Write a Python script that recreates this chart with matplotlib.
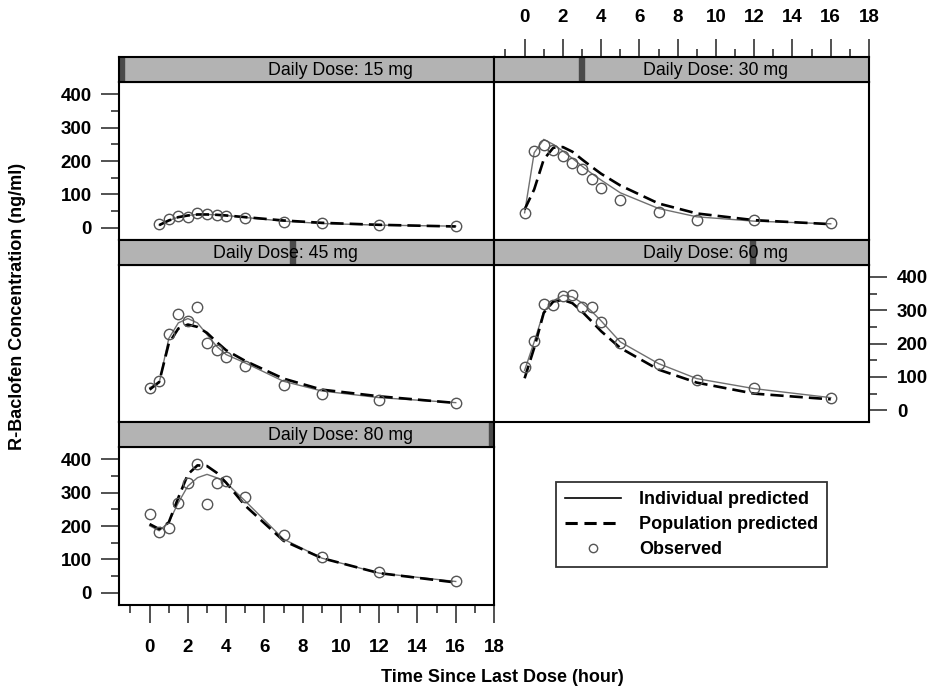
import numpy as np
import matplotlib.pyplot as plt
from matplotlib.patches import Rectangle
from matplotlib.lines import Line2D

plt.rcParams['font.family'] = ['Liberation Sans', 'DejaVu Sans']
plt.rcParams['font.weight'] = 'bold'

# sampling times (hour)
times = [0, 0.5, 1, 1.5, 2, 2.5, 3, 3.5, 4, 5, 7, 9, 12, 16]
times_15 = [0.5, 1, 1.5, 2, 2.5, 3, 3.5, 4, 5, 7, 9, 12, 16]

doses = [15, 30, 45, 60, 80]
strip_labels = ['Daily Dose: 15 mg', 'Daily Dose: 30 mg', 'Daily Dose: 45 mg',
                'Daily Dose: 60 mg', 'Daily Dose: 80 mg']

# observed concentrations (ng/ml)
obs_15 = [11, 26, 36, 32, 43, 40, 39, 36, 29, 17, 13, 7, 5]
obs_30 = [43, 230, 249, 234, 214, 195, 175, 145, 119, 83, 47, 23, 23, 15]
obs_45 = [66, 87, 229, 289, 269, 310, 202, 182, 159, 132, 76, 48, 31, 21]
obs_60 = [130, 209, 318, 316, 343, 346, 311, 311, 264, 202, 140, 90, 66, 38]
obs_80 = [236, 183, 193, 269, 330, 385, 266, 328, 335, 287, 174, 106, 61, 34]

# individual predicted
ipred_15 = [8, 22, 32, 37, 40, 40, 39, 37, 31, 20, 13, 8, 5]
ipred_30 = [45, 225, 265, 250, 230, 208, 185, 163, 143, 105, 58, 33, 20, 12]
ipred_45 = [68, 82, 215, 262, 275, 262, 227, 192, 167, 142, 87, 58, 38, 23]
ipred_60 = [120, 205, 296, 328, 345, 340, 322, 297, 268, 205, 140, 95, 65, 38]
ipred_80 = [201, 186, 211, 270, 320, 345, 355, 345, 330, 275, 161, 104, 59, 34]

# population predicted
pred_15 = [8, 22, 32, 37, 40, 40, 39, 37, 32, 22, 15, 9, 4]
pred_30 = [55, 115, 205, 240, 242, 228, 205, 183, 162, 127, 73, 43, 23, 11]
pred_45 = [62, 85, 200, 245, 257, 250, 232, 205, 180, 148, 95, 62, 42, 22]
pred_60 = [96, 187, 292, 326, 331, 321, 296, 267, 237, 187, 122, 83, 50, 33]
pred_80 = [206, 191, 211, 285, 355, 382, 380, 360, 330, 261, 156, 104, 59, 31]

x_list = [times_15, times, times, times, times]
obs = [obs_15, obs_30, obs_45, obs_60, obs_80]
ipred = [ipred_15, ipred_30, ipred_45, ipred_60, ipred_80]
pred = [pred_15, pred_30, pred_45, pred_60, pred_80]

W, H = 938, 694
fig = plt.figure(figsize=(W / 100, H / 100), dpi=100)


def box(x0, y0, x1, y1):
    return [x0 / W, 1 - y1 / H, (x1 - x0) / W, (y1 - y0) / H]


cols = [(119, 494), (494, 869)]
row_tops = [57, 239.5, 422]
strip_h = 25
panel_h = 157.5
# (col, row) of each dose panel, text position in strip
spots = [(0, 0), (1, 0), (0, 1), (1, 1), (0, 2)]
text_pos = [0.591, 0.591, 0.443, 0.591, 0.591]

xlim = (-1.6, 18.0)
ylim = (-35, 437)
tick_kw = dict(length=13, width=1.2, color='#333333', labelsize=13.5, pad=6.5)
minor_kw = dict(length=5.8, width=1.2, color='#333333')

for i, d in enumerate(doses):
    c, r = spots[i]
    x0, x1 = cols[c]
    top = row_tops[r]
    ax = fig.add_axes(box(x0, top + strip_h, x1, top + strip_h + panel_h))
    ax_s = fig.add_axes(box(x0, top, x1, top + strip_h))

    ax.plot(x_list[i], ipred[i], color='#707070', lw=1.0, zorder=2)
    ax.plot(x_list[i], pred[i], color='black', lw=1.9, dashes=(5, 2.3), zorder=3)
    ax.plot(x_list[i], obs[i], 'o', ms=7.5, mfc='none', mec='#555555', mew=1.0, zorder=4)

    ax.set_xlim(xlim)
    ax.set_ylim(ylim)
    ax.set_xticks(np.arange(0, 19, 2))
    ax.set_xticks(np.arange(-1, 18, 2), minor=True)
    ax.set_yticks(np.arange(0, 401, 100))
    ax.set_yticks(np.arange(50, 401, 100), minor=True)
    ax.tick_params(which='major', **tick_kw)
    ax.tick_params(which='minor', **minor_kw)
    ax.tick_params(axis='both', which='both', bottom=False, top=False, left=False, right=False,
                   labelbottom=False, labeltop=False, labelleft=False, labelright=False)
    for sp in ax.spines.values():
        sp.set_linewidth(1.5)

    # alternating axes like lattice
    if c == 0 and r in (0, 2):
        ax.tick_params(axis='y', which='both', left=True, labelleft=True)
    if c == 1 and r == 1:
        ax.tick_params(axis='y', which='both', right=True, labelright=True)
        ax.tick_params(axis='y', pad=7)
    if r == 2:
        ax.tick_params(axis='x', which='both', bottom=True, labelbottom=True)
        ax.tick_params(axis='x', pad=12)

    # strip
    ax_s.set_facecolor('#b3b3b3')
    ax_s.set_xlim(xlim)
    ax_s.set_ylim(0, 1)
    ax_s.set_yticks([])
    for sp in ax_s.spines.values():
        sp.set_linewidth(1.5)
    w = 0.013
    f = (d - doses[0]) / (doses[-1] - doses[0])
    ax_s.add_patch(Rectangle((f * (1 - w), 0), w, 1, transform=ax_s.transAxes,
                             color='#4a4a4a', zorder=1))
    ax_s.text(text_pos[i], 0.45, strip_labels[i], transform=ax_s.transAxes,
              ha='center', va='center', fontsize=12.8, fontweight='normal', zorder=3)
    if c == 1 and r == 0:
        ax_s.set_xticks(np.arange(0, 19, 2))
        ax_s.set_xticks(np.arange(-1, 18, 2), minor=True)
        ax_s.tick_params(which='major', **tick_kw)
        ax_s.tick_params(which='minor', **minor_kw)
        ax_s.tick_params(axis='x', which='both', bottom=False, labelbottom=False,
                         top=True, labeltop=True, pad=9)
    else:
        ax_s.set_xticks([])
        ax_s.set_xticks([], minor=True)

fig.text(18 / W, 1 - 306 / H, 'R-Baclofen Concentration (ng/ml)', rotation=90,
         ha='center', va='center', fontsize=13, fontweight='bold')
fig.text(502 / W, 1 - 677 / H, 'Time Since Last Dose (hour)',
         ha='center', va='center', fontsize=13, fontweight='bold')

handles = [Line2D([], [], color='black', lw=1.2),
           Line2D([], [], color='black', lw=2.2, dashes=(4, 2.2)),
           Line2D([], [], ls='none', marker='o', ms=6, mfc='none', mec='#555555', mew=1.0)]
labels = ['Individual predicted', 'Population predicted', 'Observed']
leg = fig.legend(handles, labels, loc='upper left', bbox_to_anchor=(556 / W, 1 - 482 / H),
                 borderaxespad=0, frameon=True, fancybox=False, edgecolor='black',
                 handlelength=3.1, handletextpad=1.0, labelspacing=0.45, borderpad=0.5,
                 prop={'weight': 'bold', 'size': 13})
leg.get_frame().set_linewidth(1.3)

fig.savefig('out.png', dpi=100)
